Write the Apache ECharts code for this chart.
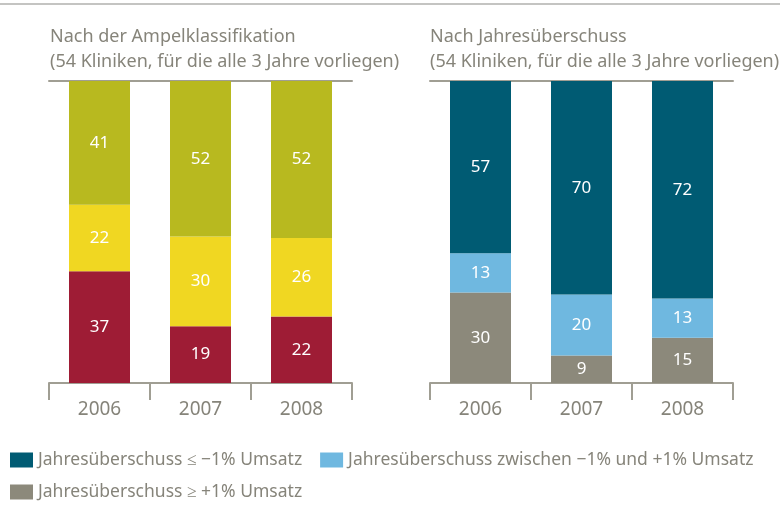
<!DOCTYPE html>
<html>
<head>
<meta charset="utf-8">
<script src="https://cdn.jsdelivr.net/npm/echarts@6/dist/echarts.min.js"></script>
<style>
  html, body { margin: 0; padding: 0; background: #fff; }
  #chart { width: 780px; height: 505px; }
</style>
</head>
<body>
<div id="chart"></div>
<script>
const years = ["2006", "2007", "2008"];

// Nach der Ampelklassifikation
const ampelRot = [37, 19, 22];
const ampelGelb = [22, 30, 26];
const ampelGruen = [41, 52, 52];

// Nach Jahresüberschuss
const jueHoch = [30, 9, 15];
const jueMitte = [13, 20, 13];
const jueNiedrig = [57, 70, 72];

const legendNames = [
  "Jahresüberschuss ≤ −1% Umsatz",
  "Jahresüberschuss zwischen −1% und +1% Umsatz",
  "Jahresüberschuss ≥ +1% Umsatz"
];

const FONT = "Noto Sans";
const GREY = "#86847a";
const AXIS = "#a09e93";

// bars fill the full column, labels keep the printed value
function share(groups, idx) {
  return groups[idx].map((v, i) => {
    const sum = groups.reduce((a, g) => a + g[i], 0);
    return { value: v / sum * 100, raw: v };
  });
}

function barSeries(name, groups, idx, color, axis) {
  return {
    name: name,
    type: "bar",
    stack: "s" + axis,
    xAxisIndex: axis * 2,
    yAxisIndex: axis,
    barWidth: 61,
    itemStyle: { color: color },
    label: {
      show: true,
      color: "#fff",
      fontFamily: FONT,
      fontSize: 17,
      formatter: p => p.data.raw
    },
    data: share(groups, idx)
  };
}

const ampel = [ampelRot, ampelGelb, ampelGruen];
const jue = [jueHoch, jueMitte, jueNiedrig];

function bottomAxis(grid) {
  return {
    type: "category",
    gridIndex: grid,
    data: years,
    position: "bottom",
    axisLine: { lineStyle: { color: AXIS, width: 2 } },
    axisTick: { show: true, length: 17, lineStyle: { color: AXIS, width: 2 } },
    axisLabel: { color: GREY, fontFamily: FONT, fontSize: 19, margin: 17 }
  };
}

function topAxis(grid) {
  return {
    type: "category",
    gridIndex: grid,
    data: years,
    position: "top",
    axisLine: { lineStyle: { color: AXIS, width: 2 } },
    axisTick: { show: false },
    axisLabel: { show: false }
  };
}

function valueAxis(grid) {
  return {
    type: "value",
    gridIndex: grid,
    min: 0,
    max: 100,
    show: false
  };
}

const chart = echarts.init(document.getElementById("chart"), null, { renderer: "canvas" });

chart.setOption({
  animation: false,
  title: [
    {
      text: "Nach der Ampelklassifikation\n(54 Kliniken, für die alle 3 Jahre vorliegen)",
      left: 45, top: 19,
      textStyle: { color: GREY, fontFamily: FONT, fontSize: 18, fontWeight: "normal", lineHeight: 25 }
    },
    {
      text: "Nach Jahresüberschuss\n(54 Kliniken, für die alle 3 Jahre vorliegen)",
      left: 425, top: 19,
      textStyle: { color: GREY, fontFamily: FONT, fontSize: 18, fontWeight: "normal", lineHeight: 25 }
    }
  ],
  graphic: [
    { type: "line", shape: { x1: 0, y1: 4, x2: 780, y2: 4 }, style: { stroke: "#c4c4c2", lineWidth: 2 } }
  ],
  legend: [
    {
      left: 5, top: 446,
      itemWidth: 23, itemHeight: 15, itemGap: 18,
      icon: "rect",
      textStyle: { color: GREY, fontFamily: FONT, fontSize: 17.5 },
      data: [legendNames[0], legendNames[1]]
    },
    {
      left: 5, top: 478,
      itemWidth: 23, itemHeight: 15,
      icon: "rect",
      textStyle: { color: GREY, fontFamily: FONT, fontSize: 17.5 },
      data: [legendNames[2]]
    }
  ],
  grid: [
    { left: 49, width: 303, top: 81, height: 302 },
    { left: 430, width: 303, top: 81, height: 302 }
  ],
  xAxis: [bottomAxis(0), topAxis(0), bottomAxis(1), topAxis(1)],
  yAxis: [valueAxis(0), valueAxis(1)],
  series: [
    barSeries("Rot", ampel, 0, "#9e1c35", 0),
    barSeries("Gelb", ampel, 1, "#f0d722", 0),
    barSeries("Grün", ampel, 2, "#b8b91f", 0),
    barSeries(legendNames[2], jue, 0, "#8c897b", 1),
    barSeries(legendNames[1], jue, 1, "#6fb8e0", 1),
    barSeries(legendNames[0], jue, 2, "#005b73", 1)
  ]
});
</script>
</body>
</html>
